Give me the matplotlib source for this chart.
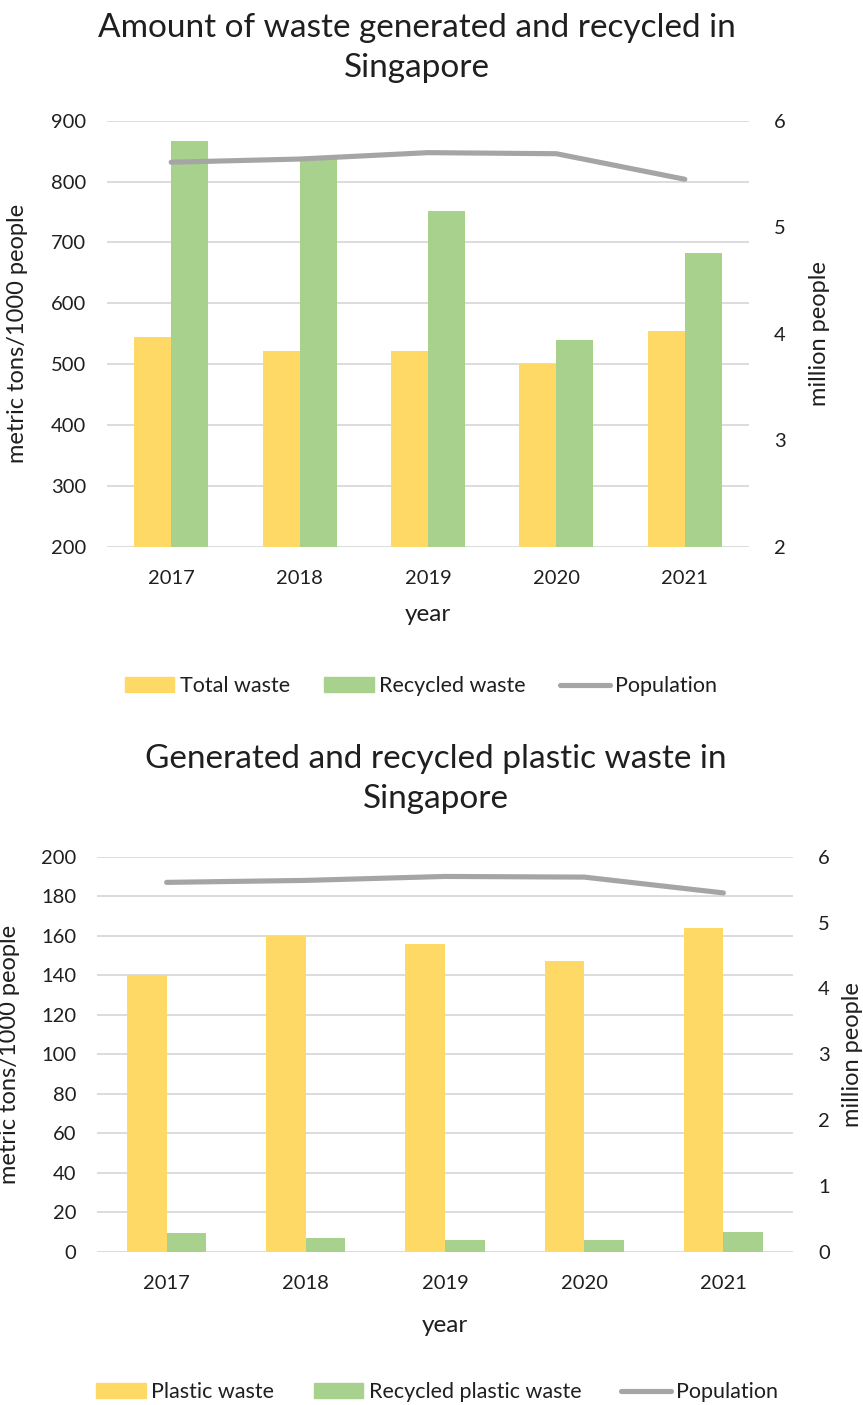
import numpy as np
import matplotlib
matplotlib.use("Agg")
import matplotlib.pyplot as plt
from matplotlib.patches import Patch
from matplotlib.lines import Line2D

plt.rcParams["font.family"] = ["Lato", "DejaVu Sans"]

years = ["2017", "2018", "2019", "2020", "2021"]
total_waste = [544, 522, 522, 501, 555]
recycled_waste = [866, 838, 752, 539, 682]
plastic_waste = [140, 160, 156, 147, 164]
recycled_plastic = [9.5, 6.8, 5.9, 5.9, 10.0]
population = [5.61, 5.64, 5.70, 5.69, 5.45]

YELLOW = "#FFD966"
GREEN = "#A9D18E"
GREY = "#A5A5A5"
GRID = "#D9D9D9"
TEXT = "#1f1f1f"

W, H = 863, 1405
fig = plt.figure(figsize=(W / 100, H / 100), dpi=100)

TICK_FS = 14.5
LABEL_FS = 17
LEGEND_FS = 15.5
TITLE_FS = 24


def frac_box(left, top, right, bottom):
    return [left / W, 1 - bottom / H, (right - left) / W, (bottom - top) / H]


def make_panel(box, bars_a, bars_b, ylim, yticks, ylim2, yticks2, bw,
               ylab_x, ylab2_x, year_y):
    ax = fig.add_axes(box)
    x = np.arange(len(years))
    ax.bar(x - bw / 2, bars_a, width=bw, color=YELLOW, zorder=2)
    ax.bar(x + bw / 2, bars_b, width=bw, color=GREEN, zorder=2)
    ax.set_xlim(-0.5, len(years) - 0.5)
    ax.set_ylim(*ylim)
    ax.set_yticks(yticks)
    ax.set_xticks(x)
    ax.set_xticklabels(years)
    ax.grid(axis="y", color=GRID, lw=1.3, zorder=0)
    ax.set_axisbelow(True)
    for s in ax.spines.values():
        s.set_visible(False)
    ax.tick_params(axis="both", length=0, labelsize=TICK_FS, colors=TEXT)
    ax.tick_params(axis="y", pad=15)
    ax.tick_params(axis="x", pad=17)
    ax.set_ylabel("metric tons/1000 people", fontsize=LABEL_FS, color=TEXT)
    ax.yaxis.set_label_coords(ylab_x, 0.5)
    ax.set_xlabel("year", fontsize=LABEL_FS + 0.5, color=TEXT, va="center")
    ax.xaxis.set_label_coords(0.5, year_y)

    ax2 = ax.twinx()
    ax2.plot(x, population, color=GREY, lw=3.7, solid_capstyle="round",
             solid_joinstyle="round", zorder=3)
    ax2.set_ylim(*ylim2)
    ax2.set_yticks(yticks2)
    for s in ax2.spines.values():
        s.set_visible(False)
    ax2.tick_params(axis="y", length=0, labelsize=TICK_FS, colors=TEXT, pad=18)
    ax2.set_ylabel("million people", fontsize=LABEL_FS, color=TEXT)
    ax2.yaxis.set_label_coords(ylab2_x, 0.5)
    return ax


def legend(labels, center, colspace):
    handles = [Patch(color=YELLOW, label=labels[0]),
               Patch(color=GREEN, label=labels[1]),
               Line2D([], [], color=GREY, lw=3.7, solid_capstyle="round",
                      label=labels[2])]
    fig.legend(handles=handles, loc="center", bbox_to_anchor=center, ncol=3,
               frameon=False, fontsize=LEGEND_FS, handlelength=2.3,
               handleheight=0.65, handletextpad=0.25, columnspacing=colspace,
               labelcolor=TEXT)


# Panel 1: total and recycled waste
make_panel(frac_box(107, 120.7, 749, 546.7), total_waste, recycled_waste,
           (200, 900), np.arange(200, 901, 100), (2, 6), [2, 3, 4, 5, 6],
           0.288, -0.123, 1.093, -0.160)
fig.text(417 / W, 1 - 48 / H, "Amount of waste generated and recycled in\nSingapore",
         ha="center", va="center", fontsize=TITLE_FS, color=TEXT, linespacing=1.45)
legend(["Total waste", "Recycled waste", "Population"], (421 / W, 1 - 686 / H), 1.6)

# Panel 2: plastic waste
make_panel(frac_box(97, 856.7, 793, 1251.7), plastic_waste, recycled_plastic,
           (0, 200), np.arange(0, 201, 20), (0, 6), [0, 1, 2, 3, 4, 5, 6],
           0.284, -0.110, 1.070, -0.186)
fig.text(436 / W, 1 - 779 / H, "Generated and recycled plastic waste in\nSingapore",
         ha="center", va="center", fontsize=TITLE_FS, color=TEXT, linespacing=1.45)
legend(["Plastic waste", "Recycled plastic waste", "Population"],
       (437 / W, 1 - 1392 / H), 1.85)

fig.savefig("out.png", dpi=100, facecolor="white")
